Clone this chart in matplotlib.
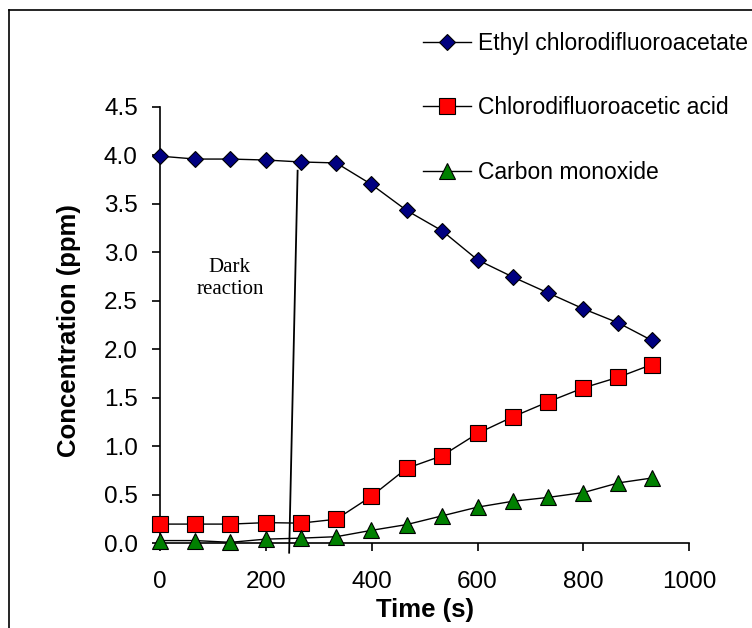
import matplotlib
matplotlib.use("Agg")
import matplotlib.pyplot as plt
from matplotlib.lines import Line2D

plt.rcParams['font.family'] = ['Liberation Sans', 'DejaVu Sans']

# time (s)
time = [0, 67, 133, 200, 266, 333, 399, 466, 533, 600, 666, 733, 800, 866, 929]
# concentrations (ppm)
ester = [3.99, 3.96, 3.96, 3.95, 3.93, 3.92, 3.70, 3.43, 3.22, 2.92, 2.745, 2.58, 2.415, 2.27, 2.09]
acid = [0.195, 0.195, 0.195, 0.21, 0.205, 0.245, 0.48, 0.77, 0.90, 1.13, 1.30, 1.455, 1.60, 1.71, 1.84]
co = [0.025, 0.025, 0.007, 0.04, 0.05, 0.065, 0.13, 0.19, 0.28, 0.37, 0.43, 0.47, 0.52, 0.62, 0.67]

labels = ['Ethyl chlorodifluoroacetate', 'Chlorodifluoroacetic acid', 'Carbon monoxide']

# divider between dark and light periods
dark_x = [260, 244]
dark_y = [3.84, -0.10]

fig = plt.figure(figsize=(7.52, 6.28), dpi=100)
ax = fig.add_axes([160/752, 85/628, 529.3/752, 436.3/628])

kw = dict(color='black', lw=1.0, markeredgecolor='black', markeredgewidth=0.8, clip_on=False, zorder=3)
ax.plot(time, ester, marker='D', markersize=8.5, markerfacecolor='#000080', label=labels[0], **kw)
ax.plot(time, acid, marker='s', markersize=11, markerfacecolor='#FF0000', label=labels[1], **kw)
ax.plot(time, co, marker='^', markersize=11, markerfacecolor='#008000', label=labels[2], **kw)

ax.plot(dark_x, dark_y, color='black', lw=1.3, clip_on=False)
ax.text(132, 2.73, 'Dark\nreaction', ha='center', va='center', fontsize=15,
        family=['Liberation Serif', 'DejaVu Serif'], linespacing=1.2)

ax.set_xlim(0, 1000)
ax.set_ylim(0, 4.5)
ax.set_xticks([0, 200, 400, 600, 800, 1000])
ax.set_yticks([0, 0.5, 1.0, 1.5, 2.0, 2.5, 3.0, 3.5, 4.0, 4.5])
ax.set_yticklabels(['0.0', '0.5', '1.0', '1.5', '2.0', '2.5', '3.0', '3.5', '4.0', '4.5'])
ax.spines['top'].set_visible(False)
ax.spines['right'].set_visible(False)
for s in ['left', 'bottom']:
    ax.spines[s].set_linewidth(1.2)
ax.tick_params(direction='out', length=6, width=1.2, labelsize=17.5, pad=10)
ax.tick_params(axis='x', pad=14)

ax.set_xlabel('Time (s)', fontsize=18.5, fontweight='bold')
ax.set_ylabel('Concentration (ppm)', fontsize=18.5, fontweight='bold')
ax.xaxis.set_label_coords(0.5, -0.126)
ax.yaxis.set_label_coords(-0.149, 0.487)

fig.legend(loc='center left', bbox_to_anchor=(423/752, 1 - 108/628), frameon=False,
           fontsize=16.5, borderpad=0, borderaxespad=0, labelspacing=1.8,
           handlelength=2.1, handletextpad=0.3)

# outer frame around the chart area
fig.add_artist(Line2D([9/752, 9/752], [0, 1 - 10/628], transform=fig.transFigure, color='black', lw=1.2))
fig.add_artist(Line2D([9/752, 1], [1 - 10/628, 1 - 10/628], transform=fig.transFigure, color='black', lw=1.2))

fig.savefig('out.png', dpi=100)
